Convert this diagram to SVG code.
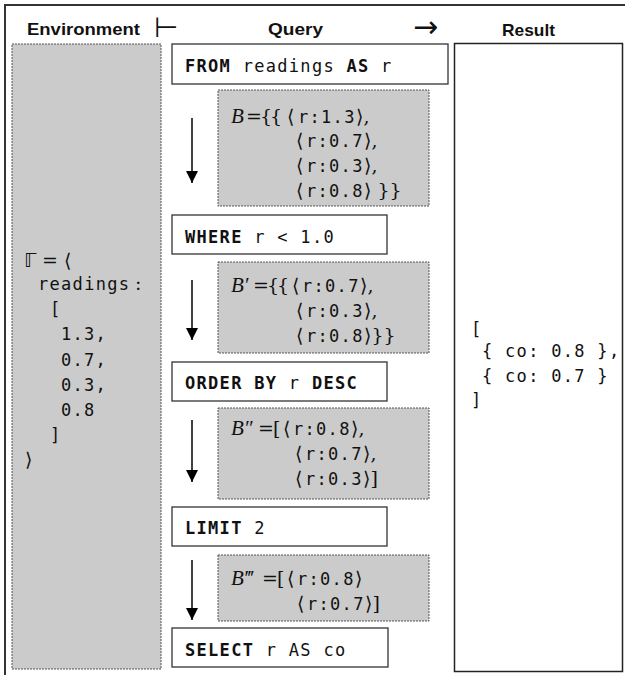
<svg xmlns="http://www.w3.org/2000/svg" width="625" height="675" viewBox="0 0 625 675">
<style>
text{white-space:pre}
.h{font-family:"Liberation Sans",Arial,sans-serif;font-weight:bold;font-size:17px;fill:#111}
.sym{font-family:"DejaVu Sans",sans-serif;fill:#111}
.m{font-family:"DejaVu Sans Mono",monospace;font-size:17px;letter-spacing:1.3px;fill:#111}
.b{font-weight:bold}
.s{font-family:"DejaVu Serif","Liberation Serif",serif;font-size:19px;fill:#111}
.t{letter-spacing:-2px}
.i{font-family:"Liberation Serif","DejaVu Serif",serif;font-style:italic;font-size:21px;fill:#111}
.q{fill:#fff;stroke:#333;stroke-width:1.3}
.g{fill:#cbcbcb;stroke:#555;stroke-width:1;stroke-dasharray:2,1}
.a{stroke:#000;stroke-width:1.5;fill:none}
</style>
<defs>
<marker id="ah" markerUnits="userSpaceOnUse" markerWidth="12" markerHeight="12" refX="12" refY="6" orient="auto">
<path d="M0,0 L12,6 L0,12 z" fill="#000"/>
</marker>
</defs>
<rect x="5" y="5" width="640" height="690" fill="#fff" stroke="#333" stroke-width="2"/>
<g id="headers">
<text class="h" x="27" y="35" textLength="113" lengthAdjust="spacingAndGlyphs">Environment</text>
<text class="sym" x="154" y="37" font-size="28">⊢</text>
<text class="h" x="268" y="35" textLength="55" lengthAdjust="spacingAndGlyphs">Query</text>
<text class="sym" x="413" y="37" font-size="30">→</text>
<text class="h" x="502" y="36" textLength="53" lengthAdjust="spacingAndGlyphs">Result</text>
</g>
<g id="environment">
<rect class="g" x="12" y="44" width="149" height="625"/>
<text class="sym" x="24" y="267" font-size="19">ℾ</text><text class="s" x="42" y="267">= ⟨</text>
<text class="m" x="38" y="290">readings</text><text class="s" x="135" y="290">:</text>
<text class="m" x="50" y="315">[</text>
<text class="m" x="61" y="340">1.3,</text>
<text class="m" x="61" y="366">0.7,</text>
<text class="m" x="61" y="391">0.3,</text>
<text class="m" x="61" y="416">0.8</text>
<text class="m" x="50" y="441">]</text>
<text class="s" x="25" y="466">⟩</text>
</g>
<g id="result">
<rect x="454.5" y="43.5" width="168" height="628" fill="#fff" stroke="#222" stroke-width="1.5"/>
<text class="m" x="471" y="335">[</text>
<text class="m" x="482" y="357">{ co: 0.8 },</text>
<text class="m" x="482" y="382">{ co: 0.7 }</text>
<text class="m" x="471" y="406">]</text>
</g>
<g id="q-from">
<rect class="q" x="172" y="44" width="276" height="40"/>
<text class="m" x="185" y="72"><tspan class="b">FROM</tspan> readings <tspan class="b">AS</tspan> r</text>
</g>
<g id="b0">
<rect class="g" x="218" y="90" width="211" height="116"/>
<text class="i" x="231" y="123">B</text><text class="s t" x="246" y="123">={{</text>
<text class="s" x="287" y="123">⟨</text><text class="m" x="298" y="123">r:1.3</text><text class="s" x="356" y="123">⟩,</text>
<text class="s" x="296" y="147">⟨</text><text class="m" x="306" y="147">r:0.7</text><text class="s" x="364" y="147">⟩,</text>
<text class="s" x="296" y="172">⟨</text><text class="m" x="306" y="172">r:0.3</text><text class="s" x="364" y="172">⟩,</text>
<text class="s" x="296" y="197">⟨</text><text class="m" x="306" y="197">r:0.8</text><text class="s" x="364" y="197">⟩ }}</text>
</g>
<g id="q-where">
<rect class="q" x="172" y="215" width="215" height="39"/>
<text class="m" x="185" y="243"><tspan class="b">WHERE</tspan> r &lt; 1.0</text>
</g>
<g id="b1">
<rect class="g" x="218" y="262" width="211" height="91"/>
<text class="i" x="231" y="292">B′</text><text class="s t" x="253" y="292">={{</text>
<text class="s" x="292" y="292">⟨</text><text class="m" x="302" y="292">r:0.7</text><text class="s" x="360" y="292">⟩,</text>
<text class="s" x="296" y="317">⟨</text><text class="m" x="306" y="317">r:0.3</text><text class="s" x="364" y="317">⟩,</text>
<text class="s" x="296" y="342">⟨</text><text class="m" x="306" y="342">r:0.8</text><text class="s" x="364" y="342">⟩}}</text>
</g>
<g id="q-order">
<rect class="q" x="172" y="362" width="215" height="39"/>
<text class="m" x="185" y="389"><tspan class="b">ORDER BY</tspan> r <tspan class="b">DESC</tspan></text>
</g>
<g id="b2">
<rect class="g" x="218" y="408" width="211" height="91"/>
<text class="i" x="231" y="435">B″</text><text class="s" x="258" y="435">=</text><text class="s" x="273" y="435">[</text>
<text class="s" x="283" y="435">⟨</text><text class="m" x="293" y="435">r:0.8</text><text class="s" x="351" y="435">⟩,</text>
<text class="s" x="295" y="460">⟨</text><text class="m" x="305" y="460">r:0.7</text><text class="s" x="363" y="460">⟩,</text>
<text class="s" x="295" y="485">⟨</text><text class="m" x="305" y="485">r:0.3</text><text class="s" x="363" y="485">⟩]</text>
</g>
<g id="q-limit">
<rect class="q" x="172" y="507" width="215" height="39"/>
<text class="m" x="185" y="534"><tspan class="b">LIMIT</tspan> 2</text>
</g>
<g id="b3">
<rect class="g" x="218" y="555" width="211" height="66"/>
<text class="i" x="231" y="585">B‴</text><text class="s" x="262" y="585">=</text><text class="s" x="277" y="585">[</text>
<text class="s" x="287" y="585">⟨</text><text class="m" x="297" y="585">r:0.8</text><text class="s" x="355" y="585">⟩</text>
<text class="s" x="297" y="610">⟨</text><text class="m" x="307" y="610">r:0.7</text><text class="s" x="365" y="610">⟩]</text>
</g>
<g id="q-select">
<rect class="q" x="172" y="628" width="216" height="39"/>
<text class="m" x="185" y="656"><tspan class="b">SELECT</tspan> r AS co</text>
</g>
<g id="connectors">
<line class="a" x1="192" y1="118" x2="192" y2="183" marker-end="url(#ah)"/>
<line class="a" x1="192" y1="280" x2="192" y2="340" marker-end="url(#ah)"/>
<line class="a" x1="192" y1="420" x2="192" y2="482" marker-end="url(#ah)"/>
<line class="a" x1="192" y1="560" x2="192" y2="620" marker-end="url(#ah)"/>
</g>
</svg>
